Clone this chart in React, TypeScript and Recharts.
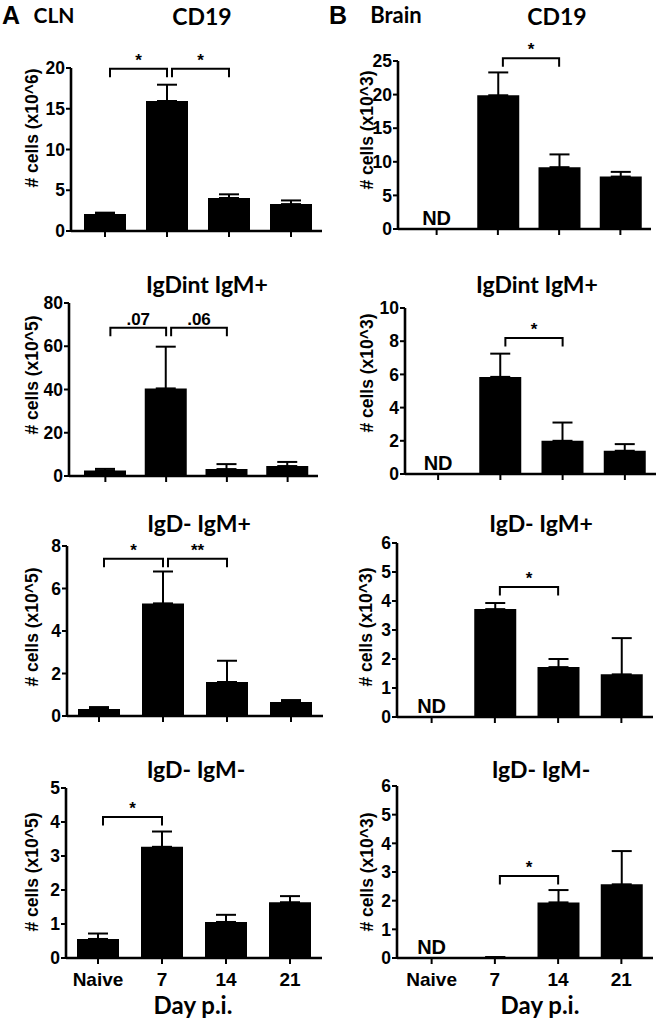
import React from 'react';
import { BarChart, Bar, XAxis, YAxis, ErrorBar, ReferenceLine, ReferenceDot } from 'recharts';

// ---------- data ----------
const days = ['Naive', '7', '14', '21'];
const panelTitles = ['CD19', 'IgDint IgM+', 'IgD- IgM+', 'IgD- IgM-'];
const clnYLabels = ['# cells (x10^6)', '# cells (x10^5)', '# cells (x10^5)', '# cells (x10^5)'];
const brainYLabels = ['# cells (x10^3)', '# cells (x10^3)', '# cells (x10^3)', '# cells (x10^3)'];
const xAxisTitle = 'Day p.i.';
const ndText = 'ND';

// A: CLN
const clnCd19 = [2.1, 15.95, 4.05, 3.3];
const clnCd19Err = [0.15, 2.0, 0.45, 0.45];
const clnIgDintIgMpos = [2.6, 40.5, 3.2, 4.6];
const clnIgDintIgMposErr = [0.7, 19.3, 2.3, 1.9];
const clnIgDnegIgMpos = [0.33, 5.3, 1.6, 0.66];
const clnIgDnegIgMposErr = [0.09, 1.5, 1.0, 0.09];
const clnIgDnegIgMneg = [0.56, 3.27, 1.06, 1.64];
const clnIgDnegIgMnegErr = [0.16, 0.45, 0.21, 0.18];

// B: Brain (null = not detected)
const brainCd19 = [null, 19.9, 9.2, 7.8];
const brainCd19Err = [null, 3.4, 1.9, 0.7];
const brainIgDintIgMpos = [null, 5.85, 2.0, 1.4];
const brainIgDintIgMposErr = [null, 1.4, 1.1, 0.4];
const brainIgDnegIgMpos = [null, 3.72, 1.72, 1.47];
const brainIgDnegIgMposErr = [null, 0.21, 0.28, 1.25];
const brainIgDnegIgMneg = [null, 0.03, 1.94, 2.57];
const brainIgDnegIgMnegErr = [null, 0, 0.43, 1.16];

// y ticks
const ticksClnCd19 = [0, 5, 10, 15, 20];
const ticksClnIgDint = [0, 20, 40, 60, 80];
const ticksClnIgDnegPos = [0, 2, 4, 6, 8];
const ticksClnIgDnegNeg = [0, 1, 2, 3, 4, 5];
const ticksBrainCd19 = [0, 5, 10, 15, 20, 25];
const ticksBrainIgDint = [0, 2, 4, 6, 8, 10];
const ticksBrainIgDnegPos = [0, 1, 2, 3, 4, 5, 6];
const ticksBrainIgDnegNeg = [0, 1, 2, 3, 4, 5, 6];

// significance brackets
const sigClnCd19 = [
  { from: 'Naive', to: '7', y: 19.9, label: '*' },
  { from: '7', to: '14', y: 19.9, label: '*' },
];
const sigClnIgDint = [
  { from: 'Naive', to: '7', y: 68.5, label: '.07' },
  { from: '7', to: '14', y: 68.5, label: '.06' },
];
const sigClnIgDnegPos = [
  { from: 'Naive', to: '7', y: 7.4, label: '*' },
  { from: '7', to: '14', y: 7.4, label: '**' },
];
const sigClnIgDnegNeg = [{ from: 'Naive', to: '7', y: 4.15, label: '*' }];
const sigBrainCd19 = [{ from: '7', to: '14', y: 25.4, label: '*' }];
const sigBrainIgDint = [{ from: '7', to: '14', y: 8.2, label: '*' }];
const sigBrainIgDnegPos = [{ from: '7', to: '14', y: 4.48, label: '*' }];
const sigBrainIgDnegNeg = [{ from: '7', to: '14', y: 2.86, label: '*' }];

// ---------- styling ----------
const numFont = '"Liberation Sans", Arial, sans-serif';
const titleFont = 'Lato, "Open Sans", sans-serif';

type Sig = { from: string; to: string; y: number; label: string };
type PanelDef = {
  values: (number | null)[];
  errors: (number | null)[];
  max: number;
  ticks: number[];
  sig: Sig[];
  nd: boolean;
  bottom: boolean;
  L: number; R: number; T: number; B: number; padL: number;
};

const bracketShape = (label: string) => (props: any) => {
  const { x1, y1, x2 } = props;
  const a = x1 + 5;
  const b = x2;
  const drop = 8.5;
  return (
    <g>
      <path d={`M${a},${y1 + drop}V${y1}H${b}V${y1 + drop}`} fill="none" stroke="#000" strokeWidth={2} />
      <text x={(a + b) / 2} y={y1 - 3} textAnchor="middle" fill="#000" fontSize={17} fontWeight={700} fontFamily={numFont}>
        {label}
      </text>
    </g>
  );
};

const makeXTick = (show: boolean) => (props: any) => {
  const { x, y, payload } = props;
  if (!show) return <g />;
  return (
    <text x={x} y={y} dy={20} textAnchor="middle" fill="#000" fontSize={19} fontWeight={700} fontFamily={numFont}>
      {payload.value}
    </text>
  );
};

function PanelChart({ p }: { p: PanelDef }) {
  const yW = 50;
  const mt = 45;
  const mr = 4;
  const xH = p.bottom ? 40 : 28;
  const left = p.L - yW;
  const width = p.R - left + mr;
  const height = mt + (p.B - p.T) + xH;
  const data = days.map((d, i) => ({
    day: d,
    v: p.values[i],
    e: p.values[i] == null ? null : [0, p.errors[i] ?? 0],
  }));
  return (
    <div style={{ position: 'absolute', left, top: p.T - mt }}>
      <BarChart width={width} height={height} data={data} margin={{ top: mt, right: mr, left: 0, bottom: 0 }}>
        <XAxis
          dataKey="day"
          type="category"
          height={xH}
          padding={{ left: p.padL, right: 0 }}
          axisLine={{ stroke: '#000', strokeWidth: 2.6 }}
          tickLine={{ stroke: '#000', strokeWidth: 2 }}
          tickSize={6}
          interval={0}
          tick={makeXTick(p.bottom)}
        />
        <YAxis
          width={yW}
          type="number"
          domain={[0, p.max]}
          ticks={p.ticks}
          interval={0}
          allowDataOverflow
          tickSize={5}
          tickMargin={1}
          axisLine={{ stroke: '#000', strokeWidth: 2.6 }}
          tickLine={{ stroke: '#000', strokeWidth: 2 }}
          tick={{ fill: '#000', fontSize: 17.5, fontWeight: 700, fontFamily: numFont }}
        />
        <Bar dataKey="v" fill="#000" barSize={42} isAnimationActive={false}>
          <ErrorBar dataKey="e" width={10} stroke="#000" strokeWidth={2} direction="y" isAnimationActive={false} />
        </Bar>
        {p.sig.map((s, i) => (
          <ReferenceLine
            key={i}
            segment={[{ x: s.from, y: s.y }, { x: s.to, y: s.y }]}
            ifOverflow="visible"
            shape={bracketShape(s.label)}
          />
        ))}
        {p.nd && (
          <ReferenceDot
            x="Naive"
            y={0}
            r={0}
            ifOverflow="visible"
            fill="none"
            stroke="none"
            label={{ value: ndText, position: 'top', offset: 4, fill: '#000', fontSize: 20, fontWeight: 700, fontFamily: numFont }}
          />
        )}
      </BarChart>
    </div>
  );
}

const panelsA: PanelDef[] = [
  { values: clnCd19, errors: clnCd19Err, max: 20, ticks: ticksClnCd19, sig: sigClnCd19, nd: false, bottom: false, L: 71, R: 322, T: 68, B: 231, padL: 3 },
  { values: clnIgDintIgMpos, errors: clnIgDintIgMposErr, max: 80, ticks: ticksClnIgDint, sig: sigClnIgDint, nd: false, bottom: false, L: 69, R: 318, T: 303, B: 476, padL: 6 },
  { values: clnIgDnegIgMpos, errors: clnIgDnegIgMposErr, max: 8, ticks: ticksClnIgDnegPos, sig: sigClnIgDnegPos, nd: false, bottom: false, L: 67, R: 323, T: 546, B: 716, padL: 0 },
  { values: clnIgDnegIgMneg, errors: clnIgDnegIgMnegErr, max: 5, ticks: ticksClnIgDnegNeg, sig: sigClnIgDnegNeg, nd: false, bottom: true, L: 66, R: 322, T: 788, B: 958, padL: 0 },
];
const panelsB: PanelDef[] = [
  { values: brainCd19, errors: brainCd19Err, max: 25, ticks: ticksBrainCd19, sig: sigBrainCd19, nd: true, bottom: false, L: 398, R: 651, T: 61, B: 229, padL: 8 },
  { values: brainIgDintIgMpos, errors: brainIgDintIgMposErr, max: 10, ticks: ticksBrainIgDint, sig: sigBrainIgDint, nd: true, bottom: false, L: 405, R: 656, T: 308, B: 474, padL: 2 },
  { values: brainIgDnegIgMpos, errors: brainIgDnegIgMposErr, max: 6, ticks: ticksBrainIgDnegPos, sig: sigBrainIgDnegPos, nd: true, bottom: false, L: 397, R: 653, T: 543, B: 717, padL: 3 },
  { values: brainIgDnegIgMneg, errors: brainIgDnegIgMnegErr, max: 6, ticks: ticksBrainIgDnegNeg, sig: sigBrainIgDnegNeg, nd: true, bottom: true, L: 397, R: 653, T: 786, B: 958, padL: 3 },
];

const titleCentersA = [[202, 16], [207, 284], [199, 523], [196, 769]];
const titleCentersB = [[557, 16], [537, 284], [541, 523], [541, 769]];
const yLabelCentersA = [[32, 128], [32, 375], [32, 627], [32, 872]];
const yLabelCentersB = [[367, 130], [367, 373], [366, 627], [367, 872]];

const Txt = ({ x, y, children, size, font, rotate }: any) => (
  <div
    style={{
      position: 'absolute',
      left: x,
      top: y,
      transform: `translate(-50%, -50%)${rotate ? ' rotate(-90deg)' : ''}`,
      whiteSpace: 'nowrap',
      fontFamily: font,
      fontWeight: 700,
      fontSize: size,
      lineHeight: 1.15,
      color: '#000',
    }}
  >
    {children}
  </div>
);

export default function App() {
  return (
    <div style={{ position: 'absolute', left: 0, top: 0, width: 657, height: 1025, background: '#fff', overflow: 'hidden' }}>
      {panelsA.map((p, i) => <PanelChart key={'a' + i} p={p} />)}
      {panelsB.map((p, i) => <PanelChart key={'b' + i} p={p} />)}
      {panelTitles.map((t, i) => (
        <Txt key={'ta' + i} x={titleCentersA[i][0]} y={titleCentersA[i][1]} size={23} font={titleFont}>{t}</Txt>
      ))}
      {panelTitles.map((t, i) => (
        <Txt key={'tb' + i} x={titleCentersB[i][0]} y={titleCentersB[i][1]} size={23} font={titleFont}>{t}</Txt>
      ))}
      {clnYLabels.map((t, i) => (
        <Txt key={'ya' + i} x={yLabelCentersA[i][0]} y={yLabelCentersA[i][1]} size={17.5} font={numFont} rotate>{t}</Txt>
      ))}
      {brainYLabels.map((t, i) => (
        <Txt key={'yb' + i} x={yLabelCentersB[i][0]} y={yLabelCentersB[i][1]} size={17.5} font={numFont} rotate>{t}</Txt>
      ))}
      <Txt x={11} y={15} size={25} font={numFont}>A</Txt>
      <Txt x={54} y={15} size={21} font={titleFont}>CLN</Txt>
      <Txt x={338} y={15} size={25} font={numFont}>B</Txt>
      <Txt x={396} y={15} size={22} font={titleFont}>Brain</Txt>
      <Txt x={193} y={1005} size={24} font={titleFont}>{xAxisTitle}</Txt>
      <Txt x={540} y={1005} size={24} font={titleFont}>{xAxisTitle}</Txt>
    </div>
  );
}
